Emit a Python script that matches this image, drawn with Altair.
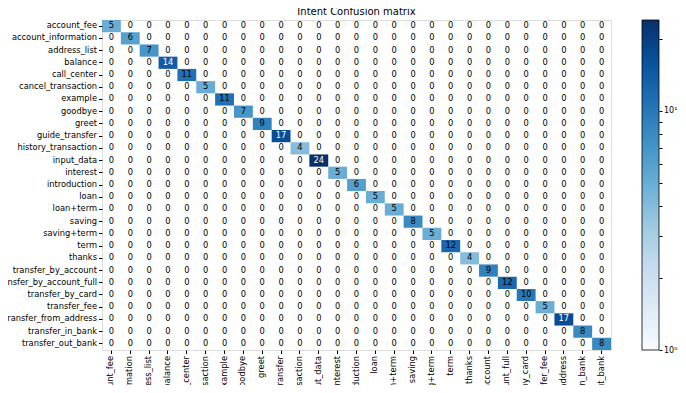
import altair as alt
import pandas as pd

labels = ["account_fee", "account_information", "address_list", "balance", "call_center",
          "cancel_transaction", "example", "goodbye", "greet", "guide_transfer",
          "history_transaction", "input_data", "interest", "introduction", "loan",
          "loan+term", "saving", "saving+term", "term", "thanks", "transfer_by_account",
          "transfer_by_account_full", "transfer_by_card", "transfer_fee",
          "transfer_from_address", "transfer_in_bank", "transfer_out_bank"]
diag = [5, 6, 7, 14, 11, 5, 11, 7, 9, 17, 4, 24, 5, 6, 5, 5, 8, 5, 12, 4, 9, 12, 10, 5, 17, 8, 8]
cbar_range = [1, 24]

rows = []
for i, t in enumerate(labels):
    for j, p in enumerate(labels):
        rows.append({"true": t, "pred": p, "value": diag[i] if i == j else 0})
df = pd.DataFrame(rows)

blues = ["#f7fbff", "#deebf7", "#c6dbef", "#9ecae1", "#6baed6",
         "#4292c6", "#2171b5", "#08519c", "#08306b"]
vmin, vmax = cbar_range
dom = [vmin * (vmax / vmin) ** (k / 8) for k in range(9)]

FONT = "DejaVu Sans"
FS = 8.3

xenc = alt.X("pred:N", sort=labels, scale=alt.Scale(paddingInner=0, paddingOuter=0),
             axis=alt.Axis(title=None, labelAngle=270, labelFontSize=FS, labelFont=FONT,
                           labelColor="black", tickColor="black", tickSize=3.5,
                           labelPadding=2, domain=False, labelOverlap=False))
yenc = alt.Y("true:N", sort=labels, scale=alt.Scale(paddingInner=0, paddingOuter=0),
             axis=alt.Axis(title=None, labelFontSize=FS, labelFont=FONT, labelColor="black",
                           tickColor="black", tickSize=3.5, labelPadding=2, domain=False,
                           labelOverlap=False))

base = alt.Chart(df)
rect = base.transform_filter("datum.value > 0").mark_rect().encode(
    x=xenc, y=yenc,
    color=alt.Color("value:Q", scale=alt.Scale(type="log", domain=dom, range=blues),
                    legend=None),
)
text = base.mark_text(font=FONT, fontSize=FS, baseline="middle").encode(
    x=xenc, y=yenc,
    text="value:Q",
    color=alt.condition("datum.value > 12", alt.value("white"), alt.value("black")),
)

grad = alt.LinearGradient(
    gradient="linear",
    stops=[alt.GradientStop(offset=k / 8, color=c) for k, c in enumerate(blues)],
    x1=0, x2=0, y1=1, y2=0,
)
cbar_df = pd.DataFrame({"lo": [vmin], "hi": [vmax]})
cbar = alt.Chart(cbar_df).mark_rect(fill=grad, stroke="black", strokeWidth=0.8).encode(
    x=alt.value(540), x2=alt.value(557),
    y=alt.Y("lo:Q", scale=alt.Scale(type="log", domain=[vmin, vmax], nice=False),
            axis=alt.Axis(orient="right", offset=48, title=None, domain=False,
                          values=[1, 2, 3, 4, 5, 6, 7, 8, 9, 10, 20],
                          labelExpr="datum.value == 1 ? '10⁰' : (datum.value == 10 ? '10¹' : '')",
                          labelFontSize=8, labelFont=FONT, labelColor="black",
                          tickColor="black", tickSize=3, labelPadding=1.5,
                          labelFlush=False, labelOverlap=False, grid=False)),
    y2="hi:Q",
)

chart = alt.layer(alt.layer(rect, text), cbar).resolve_scale(y="independent").properties(
    width=509, height=330,
    title=alt.TitleParams("Intent Confusion matrix", fontSize=10, fontWeight="normal",
                          font=FONT, color="black", anchor="middle", frame="group",
                          offset=3),
    autosize=alt.AutoSizeParams(type="none"),
    padding={"left": 94, "top": 12, "right": 67, "bottom": 35},
).configure_view(stroke="black", strokeWidth=1).configure(background="white")

chart.save("out.html", embed_options={"renderer": "svg", "actions": False})
